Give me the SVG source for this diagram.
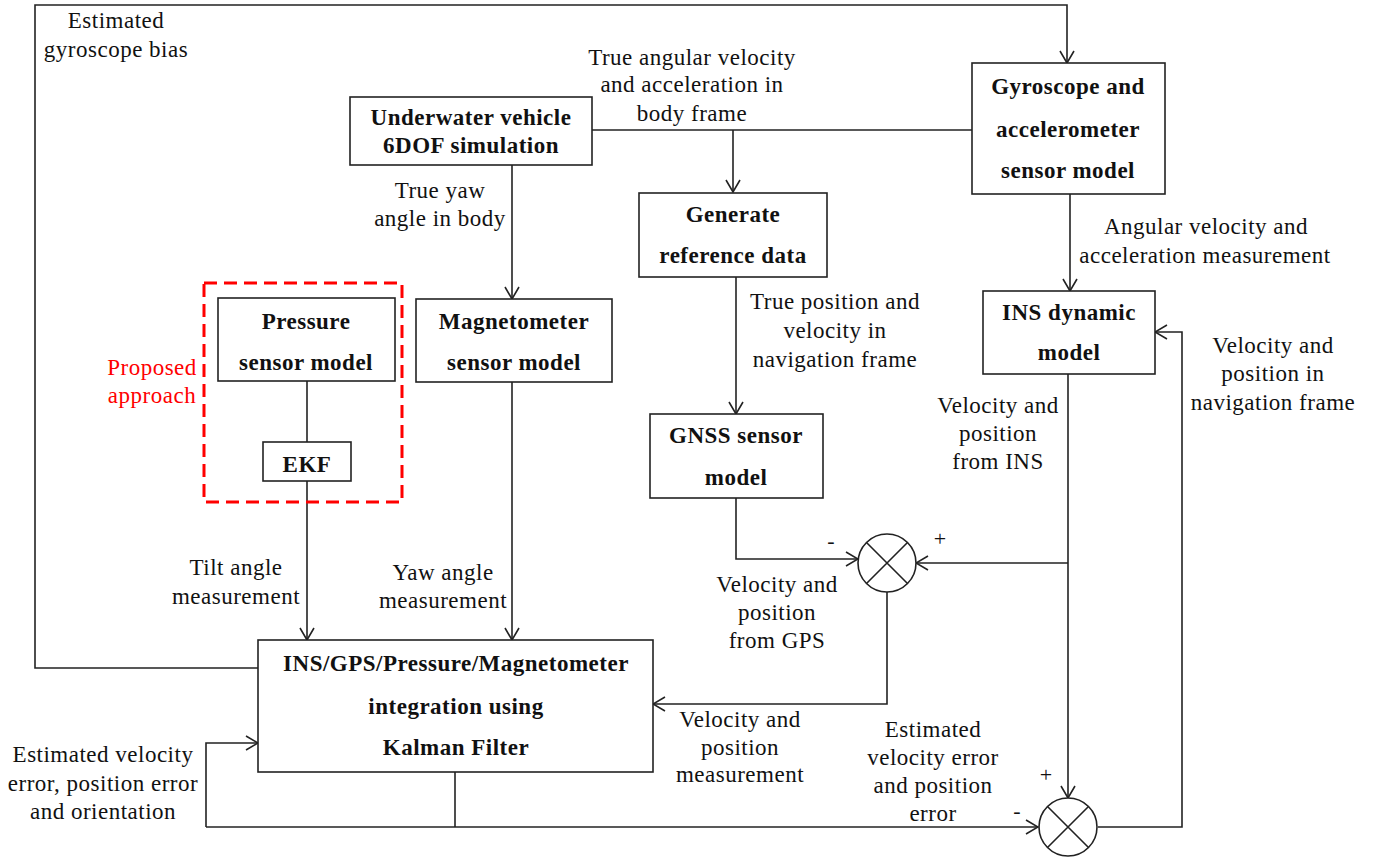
<svg xmlns="http://www.w3.org/2000/svg" width="1373" height="859" viewBox="0 0 1373 859">
  <defs>
    <style>
      .box { fill: #ffffff; stroke: #222222; stroke-width: 1.6; }
      .wire { fill: none; stroke: #222222; stroke-width: 1.6; }
      .t { font-family: "Liberation Serif", "Times New Roman", serif; font-size: 23px; letter-spacing: 0.5px; fill: #111111; text-anchor: middle; }
      .b { font-weight: bold; }
      .red { fill: #ff0000; }
      .sign { font-family: "Liberation Serif", "Times New Roman", serif; font-size: 22px; fill: #111111; text-anchor: middle; }
      .dash { fill: none; stroke: #ff0000; stroke-width: 3; stroke-dasharray: 13 7; }
    </style>
    <marker id="arrow" viewBox="0 0 14 16" refX="13" refY="8" markerWidth="14" markerHeight="16" markerUnits="userSpaceOnUse" orient="auto">
      <path d="M1,1 L13,8 L1,15" fill="none" stroke="#222222" stroke-width="1.6"/>
    </marker>
  </defs>

  <rect width="1373" height="859" fill="#ffffff"/>

  <!-- connectors -->
  <g id="connectors" class="wire">
    <!-- gyroscope bias feedback loop -->
    <path d="M258,668 H35 V5 H1067 V63" marker-end="url(#arrow)"/>
    <!-- true angular velocity bus -->
    <path d="M592,130 H972"/>
    <path d="M733,130 V192" marker-end="url(#arrow)"/>
    <!-- true yaw angle -->
    <path d="M512,165 V299" marker-end="url(#arrow)"/>
    <!-- gyro to INS -->
    <path d="M1070,194 V291" marker-end="url(#arrow)"/>
    <!-- reference data to GNSS -->
    <path d="M736,277 V414" marker-end="url(#arrow)"/>
    <!-- pressure to EKF -->
    <path d="M307,381 V442"/>
    <!-- tilt angle -->
    <path d="M307,481 V640" marker-end="url(#arrow)"/>
    <!-- yaw angle -->
    <path d="M512,382 V640" marker-end="url(#arrow)"/>
    <!-- GNSS to summing junction -->
    <path d="M736,498 V559 H858" marker-end="url(#arrow)"/>
    <!-- INS output -->
    <path d="M1068,374 V798" marker-end="url(#arrow)"/>
    <path d="M1068,563 H916" marker-end="url(#arrow)"/>
    <!-- measurement to Kalman filter -->
    <path d="M887,592 V704 H653" marker-end="url(#arrow)"/>
    <!-- Kalman filter output -->
    <path d="M455,772 V827"/>
    <path d="M206,827 H1038" marker-end="url(#arrow)"/>
    <path d="M206,827 V743 H258" marker-end="url(#arrow)"/>
    <!-- corrected navigation back to INS -->
    <path d="M1098,827 H1182 V332 H1155" marker-end="url(#arrow)"/>
  </g>

  <!-- proposed approach outline -->
  <g id="proposed">
    <rect class="dash" x="204" y="283" width="198" height="219"/>
    <text class="t red" x="152" y="375">Proposed</text>
    <text class="t red" x="152" y="403">approach</text>
  </g>

  <g id="simulation">
    <rect class="box" x="350" y="97" width="242" height="68"/>
    <text class="t b" x="471" y="125">Underwater vehicle</text>
    <text class="t b" x="471" y="153">6DOF simulation</text>
  </g>

  <g id="imu">
    <rect class="box" x="972" y="63" width="193" height="131"/>
    <text class="t b" x="1068" y="94">Gyroscope and</text>
    <text class="t b" x="1068" y="137">accelerometer</text>
    <text class="t b" x="1068" y="178">sensor model</text>
  </g>

  <g id="reference">
    <rect class="box" x="639" y="193" width="188" height="84"/>
    <text class="t b" x="733" y="222">Generate</text>
    <text class="t b" x="733" y="263">reference data</text>
  </g>

  <g id="pressure">
    <rect class="box" x="218" y="298" width="177" height="83"/>
    <text class="t b" x="306" y="329">Pressure</text>
    <text class="t b" x="306" y="370">sensor model</text>
  </g>

  <g id="ekf">
    <rect class="box" x="263" y="442" width="88" height="39"/>
    <text class="t b" x="307" y="472">EKF</text>
  </g>

  <g id="magnetometer">
    <rect class="box" x="416" y="299" width="196" height="83"/>
    <text class="t b" x="514" y="329">Magnetometer</text>
    <text class="t b" x="514" y="370">sensor model</text>
  </g>

  <g id="ins">
    <rect class="box" x="983" y="291" width="172" height="83"/>
    <text class="t b" x="1069" y="320">INS dynamic</text>
    <text class="t b" x="1069" y="360">model</text>
  </g>

  <g id="gnss">
    <rect class="box" x="650" y="414" width="173" height="84"/>
    <text class="t b" x="736" y="443">GNSS sensor</text>
    <text class="t b" x="736" y="485">model</text>
  </g>

  <g id="kalman">
    <rect class="box" x="258" y="640" width="395" height="132"/>
    <text class="t b" x="456" y="671">INS/GPS/Pressure/Magnetometer</text>
    <text class="t b" x="456" y="714">integration using</text>
    <text class="t b" x="456" y="755">Kalman Filter</text>
  </g>

  <g id="sum-gnss">
    <circle class="box" cx="887" cy="563" r="29"/>
    <path class="wire" d="M866.5,542.5 L907.5,583.5 M907.5,542.5 L866.5,583.5" stroke-width="1.2"/>
    <text class="sign" x="831" y="548">-</text>
    <text class="sign" x="940" y="546">+</text>
  </g>

  <g id="sum-error">
    <circle class="box" cx="1068" cy="827" r="29"/>
    <path class="wire" d="M1047.5,806.5 L1088.5,847.5 M1088.5,806.5 L1047.5,847.5" stroke-width="1.2"/>
    <text class="sign" x="1046" y="782">+</text>
    <text class="sign" x="1017" y="818">-</text>
  </g>

  <!-- signal labels -->
  <g id="labels">
    <text class="t" x="116" y="28">Estimated</text>
    <text class="t" x="116" y="57">gyroscope bias</text>

    <text class="t" x="692" y="65">True angular velocity</text>
    <text class="t" x="692" y="92">and acceleration in</text>
    <text class="t" x="692" y="121">body frame</text>

    <text class="t" x="440" y="198">True yaw</text>
    <text class="t" x="440" y="226">angle in body</text>

    <text class="t" x="1206" y="234">Angular velocity and</text>
    <text class="t" x="1205" y="263">acceleration measurement</text>

    <text class="t" x="835" y="309">True position and</text>
    <text class="t" x="835" y="338">velocity in</text>
    <text class="t" x="835" y="367">navigation frame</text>

    <text class="t" x="1273" y="353">Velocity and</text>
    <text class="t" x="1273" y="381">position in</text>
    <text class="t" x="1273" y="410">navigation frame</text>

    <text class="t" x="998" y="413">Velocity and</text>
    <text class="t" x="998" y="441">position</text>
    <text class="t" x="998" y="469">from INS</text>

    <text class="t" x="236" y="575">Tilt angle</text>
    <text class="t" x="236" y="604">measurement</text>

    <text class="t" x="443" y="580">Yaw angle</text>
    <text class="t" x="443" y="608">measurement</text>

    <text class="t" x="777" y="592">Velocity and</text>
    <text class="t" x="777" y="620">position</text>
    <text class="t" x="777" y="648">from GPS</text>

    <text class="t" x="740" y="727">Velocity and</text>
    <text class="t" x="740" y="755">position</text>
    <text class="t" x="740" y="782">measurement</text>

    <text class="t" x="933" y="737">Estimated</text>
    <text class="t" x="933" y="765">velocity error</text>
    <text class="t" x="933" y="793">and position</text>
    <text class="t" x="933" y="821">error</text>

    <text class="t" x="103" y="762">Estimated velocity</text>
    <text class="t" x="103" y="791">error, position error</text>
    <text class="t" x="103" y="819">and orientation</text>
  </g>
</svg>
